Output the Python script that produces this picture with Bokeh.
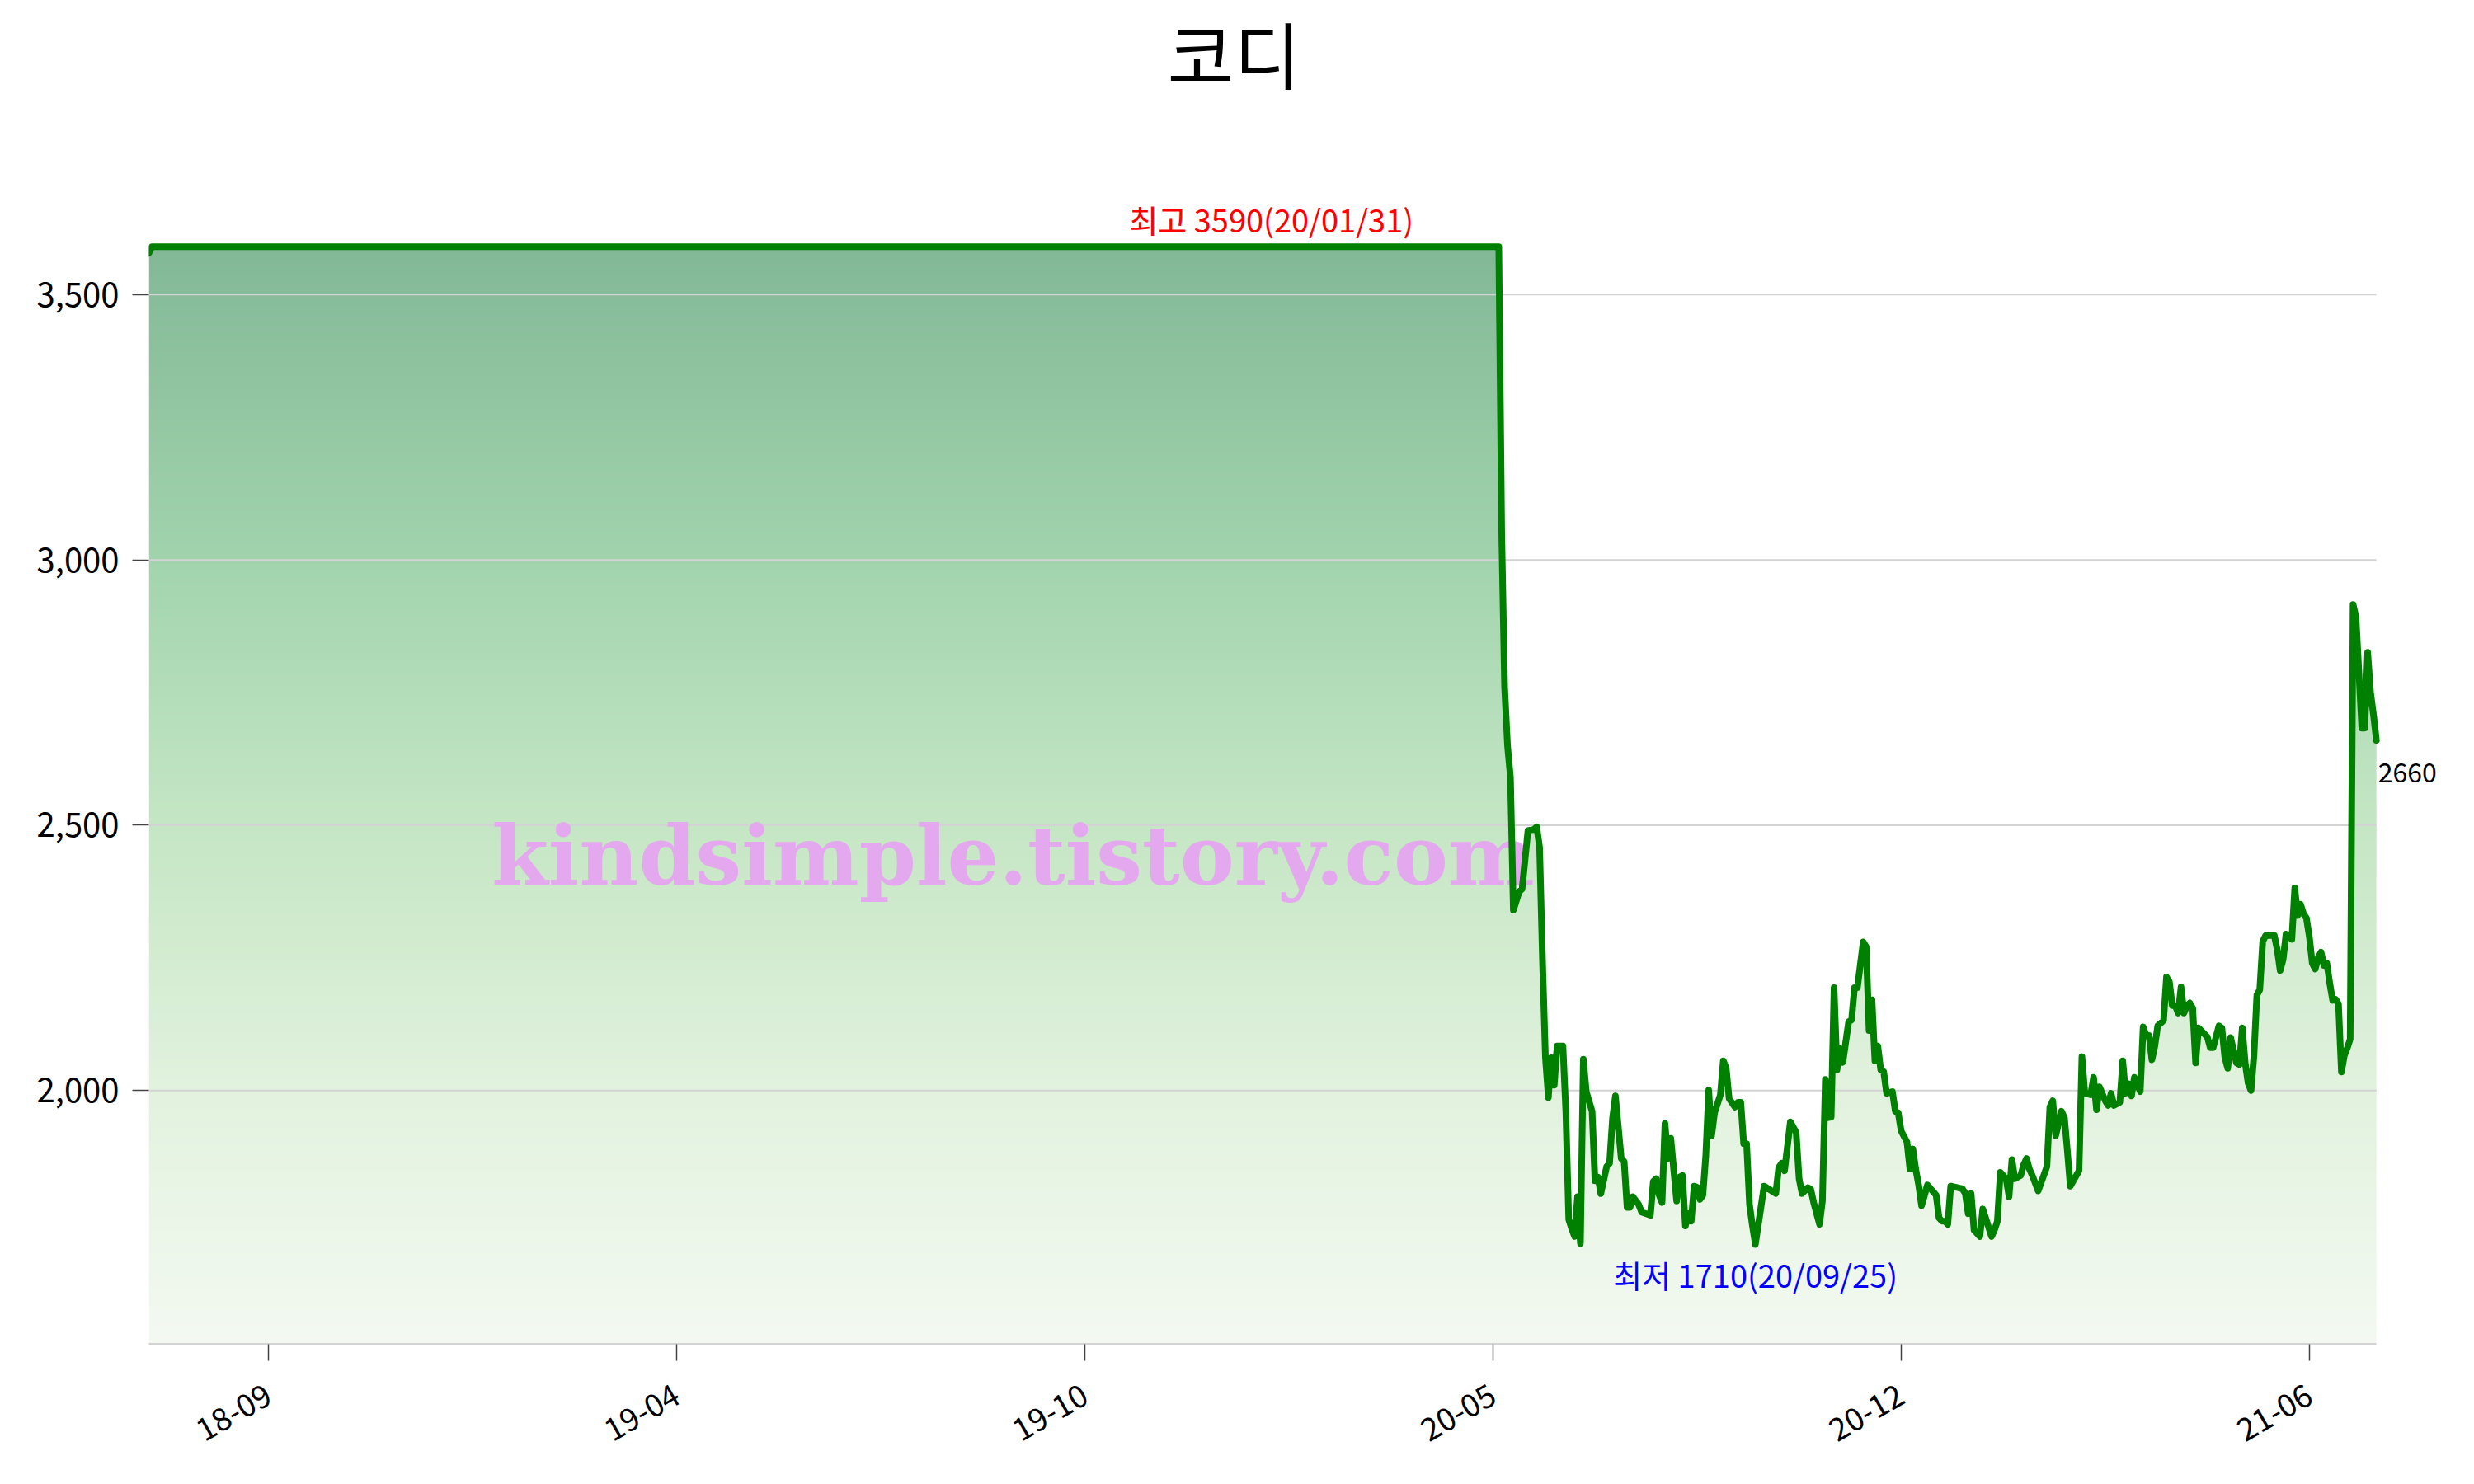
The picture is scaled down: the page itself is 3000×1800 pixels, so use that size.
import math
import numpy as np
from bokeh.plotting import figure
from bokeh.models import Range1d, FixedTicker, NumeralTickFormatter, Label
from bokeh.core.properties import value
from bokeh.embed import file_html
from bokeh.resources import INLINE

# ---------------- data ----------------
title_text = "코디"

# trading-day index of each vertex of the price line
day_index = [
    0, 1, 463, 464, 465, 466, 467, 468, 470, 471, 473, 475, 476, 477, 478, 479,
    480, 481, 482, 483, 485, 486, 487, 488, 489, 490, 491, 492, 493, 495, 496,
    497, 498, 500, 501, 502, 503, 505, 506, 507, 508, 509, 511, 512, 515, 516,
    517, 518, 519, 520, 521, 522, 524, 525, 526, 527, 528, 529, 530, 531, 532,
    533, 534, 535, 536, 537, 539, 540, 541, 542, 544, 545, 546, 547, 548, 549,
    550, 551, 554, 558, 559, 560, 561, 563, 565, 566, 567, 569, 570, 571, 573,
    574, 575, 576, 577, 578, 579, 580, 581, 583, 584, 585, 586, 588, 589, 590,
    591, 592, 593, 594, 595, 596, 598, 599, 600, 601, 603, 604, 605, 606, 607,
    608, 610, 613, 614, 615, 616, 617, 618, 622, 623, 624, 625, 626, 628, 629,
    632, 633, 634, 635, 637, 638, 639, 640, 642, 643, 644, 645, 646, 648, 651,
    652, 653, 654, 656, 657, 658, 659, 662, 663, 664, 666, 667, 668, 669, 671,
    672, 673, 674, 676, 677, 678, 679, 680, 681, 683, 684, 685, 686, 687, 688,
    689, 691, 692, 693, 694, 695, 696, 697, 698, 699, 700, 701, 702, 703, 706,
    707, 708, 710, 711, 712, 713, 714, 716, 717, 718, 719, 720, 721, 722, 723,
    724, 725, 726, 729, 730, 731, 732, 733, 734, 735, 736, 737, 738, 739, 740,
    741, 742, 743, 744, 745, 746, 747, 748, 749, 750, 751, 752, 753, 754, 755,
    756, 757, 759, 760, 761, 762, 763, 764,
]
# closing price at each vertex
close = [
    3578, 3590, 3590, 3050, 2760, 2650, 2590, 2340, 2375, 2380, 2490, 2492, 2497, 2458, 2245, 2062,
    1987, 2062, 2010, 2084, 2084, 1960, 1757, 1740, 1725, 1800, 1712, 2059, 1998, 1961, 1830,
    1837, 1806, 1857, 1863, 1947, 1990, 1872, 1866, 1780, 1780, 1800, 1785, 1771, 1765, 1829,
    1834, 1803, 1789, 1938, 1872, 1910, 1792, 1837, 1840, 1745, 1768, 1754, 1820, 1818, 1795,
    1803, 1878, 2001, 1915, 1958, 1992, 2056, 2042, 1985, 1969, 1978, 1978, 1900, 1900, 1785,
    1745, 1710, 1820, 1806, 1855, 1863, 1849, 1941, 1921, 1834, 1806, 1817, 1814, 1789, 1748,
    1792, 2021, 1949, 1950, 2194, 2039, 2079, 2053, 2130, 2133, 2194, 2194, 2280, 2271, 2113,
    2171, 2056, 2084, 2039, 2036, 1995, 1998, 1961, 1958, 1924, 1903, 1852, 1890, 1852, 1822,
    1783, 1822, 1803, 1760, 1754, 1754, 1748, 1820, 1815, 1806, 1768, 1806, 1737, 1725, 1777,
    1725, 1737, 1754, 1846, 1834, 1800, 1870, 1834, 1840, 1860, 1872, 1852, 1840, 1811, 1857,
    1969, 1981, 1915, 1961, 1949, 1887, 1820, 1849, 2064, 1995, 1992, 2025, 1964, 2007, 1981,
    1972, 1995, 1972, 1978, 2056, 1995, 2013, 1990, 2025, 1998, 2120, 2104, 2104, 2058, 2084,
    2122, 2132, 2214, 2205, 2160, 2160, 2146, 2195, 2146, 2160, 2165, 2155, 2052, 2118, 2101,
    2081, 2081, 2122, 2118, 2063, 2042, 2100, 2052, 2049, 2118, 2052, 2014, 2000, 2066, 2180,
    2190, 2281, 2292, 2292, 2265, 2226, 2247, 2295, 2292, 2285, 2382, 2330, 2351, 2333, 2325,
    2290, 2240, 2229, 2250, 2261, 2236, 2240, 2202, 2170, 2172, 2163, 2035, 2066, 2080, 2097,
    2916, 2892, 2683, 2683, 2826, 2750, 2708, 2660,
]

tick_index = [41, 181, 321, 461, 601, 741]
tick_labels = ["18-09", "19-04", "19-10", "20-05", "20-12", "21-06"]
y_ticks = [2000, 2500, 3000, 3500]

max_date = "20/01/31"
max_day = 385
min_date = "20/09/25"
watermark = "kindsimple.tistory.com"

# ---------------- layout / styling ----------------
FONT = "Noto Sans CJK KR"
y_lo, y_hi = 1522, 3770          # value range of the 1447 px tall data area
data_h, frame_h = 1447, 1630     # frame extends up to the top of the canvas
y_top = y_lo + (y_hi - y_lo) * frame_h / data_h
x_end = 786.3                    # frame extends right of the data for the last-value label
grad_vals = [1522, 2000, 2500, 3000, 3590]
grad_cols = ["#f3f9f1", "#e2f2de", "#c5e6c4", "#a1d4ad", "#83b897"]

max_value = max(close)
min_value = min(close)
min_day = day_index[close.index(min_value)]
last_day, last_value = day_index[-1], close[-1]

p = figure(width=2992, height=1792, output_backend="svg", toolbar_location=None,
           title_location=None,
           x_range=Range1d(day_index[0], x_end), y_range=Range1d(y_lo, y_top),
           min_border_left=180, min_border_right=32, min_border_top=0,
           min_border_bottom=162)
p.outline_line_color = None
p.background_fill_color = "white"
p.border_fill_color = "white"

# gradient fill under the line: vertical gradient image masked above the line
rows = 600
vals = np.linspace(grad_vals[0], grad_vals[-1], rows)
rgb = np.array([[int(c[i:i + 2], 16) for i in (1, 3, 5)] for c in grad_cols], dtype=float)
img = np.empty((rows, 1), dtype=np.uint32)
view = img.view(dtype=np.uint8).reshape((rows, 1, 4))
for ch in range(3):
    view[:, 0, ch] = np.round(np.interp(vals, grad_vals, rgb[:, ch])).astype(np.uint8)
view[:, 0, 3] = 255
p.image_rgba(image=[img], x=day_index[0], y=grad_vals[0],
             dw=day_index[-1] - day_index[0], dh=grad_vals[-1] - grad_vals[0], level="image")
mask_x = day_index + [x_end]
mask_y = close + [close[-1]]
p.varea(x=mask_x, y1=mask_y, y2=y_hi, fill_color="white", level="image")

# horizontal grid lines, only across the data span
p.xgrid.visible = False
p.ygrid.visible = False
p.segment(x0=[day_index[0]] * len(y_ticks), x1=[day_index[-1]] * len(y_ticks),
          y0=y_ticks, y1=y_ticks, line_color="#d3d3d3", line_width=2, level="underlay")

# watermark (under the line)
p.text(x=[296.4], y=[2442], text=[watermark], text_font=value("DejaVu Serif"),
       text_font_style="bold", text_font_size=value("99px"), text_color="#e4a8ee",
       text_align="center", text_baseline="alphabetic")

# price line
p.line(day_index, close, line_color="#008000", line_width=8,
       line_join="round", line_cap="round")

# axes
p.yaxis.ticker = FixedTicker(ticks=y_ticks)
p.yaxis.formatter = NumeralTickFormatter(format="0,0")
p.yaxis.axis_line_color = None
p.yaxis.major_tick_out = 20
p.yaxis.major_tick_in = 0
p.yaxis.minor_tick_line_color = None
p.yaxis.major_tick_line_color = "#444444"
p.yaxis.major_tick_line_width = 1.5
p.yaxis.major_label_text_font = FONT
p.yaxis.major_label_text_font_size = "40px"
p.yaxis.major_label_text_color = "black"
p.yaxis.major_label_standoff = 16

p.xaxis.ticker = FixedTicker(ticks=tick_index)
p.xaxis.bounds = (day_index[0], day_index[-1])
p.xaxis.major_label_overrides = {t: l for t, l in zip(tick_index, tick_labels)}
p.xaxis.major_label_orientation = math.pi / 6
p.xaxis.axis_line_color = "#d3d3d3"
p.xaxis.axis_line_width = 3
p.xaxis.major_tick_out = 20
p.xaxis.major_tick_in = 0
p.xaxis.minor_tick_line_color = None
p.xaxis.major_tick_line_color = "#444444"
p.xaxis.major_tick_line_width = 1.5
p.xaxis.major_label_text_font = FONT
p.xaxis.major_label_text_font_size = "38px"
p.xaxis.major_label_text_color = "black"
p.xaxis.major_label_standoff = 38

# title
p.add_layout(Label(x=372.2, y=3958, text=title_text, text_align="center",
                   text_baseline="alphabetic", text_color="black",
                   text_font=FONT, text_font_size="88px"))

# annotations
p.add_layout(Label(x=max_day, y=max_value, text=f"최고 {max_value}({max_date})",
                   text_align="center", text_baseline="alphabetic", y_offset=34,
                   text_color="red", text_font=FONT, text_font_size="38px"))
p.add_layout(Label(x=min_day, y=min_value, text=f"최저 {min_value}({min_date})",
                   text_align="center", text_baseline="alphabetic", y_offset=-36,
                   text_color="blue", text_font=FONT, text_font_size="38px"))
p.add_layout(Label(x=last_day, y=last_value, text=f"{last_value}",
                   text_align="left", text_baseline="alphabetic", x_offset=2, y_offset=-39,
                   text_color="black", text_font=FONT, text_font_size="32px"))

open("out.html", "w").write(file_html(p, INLINE))
